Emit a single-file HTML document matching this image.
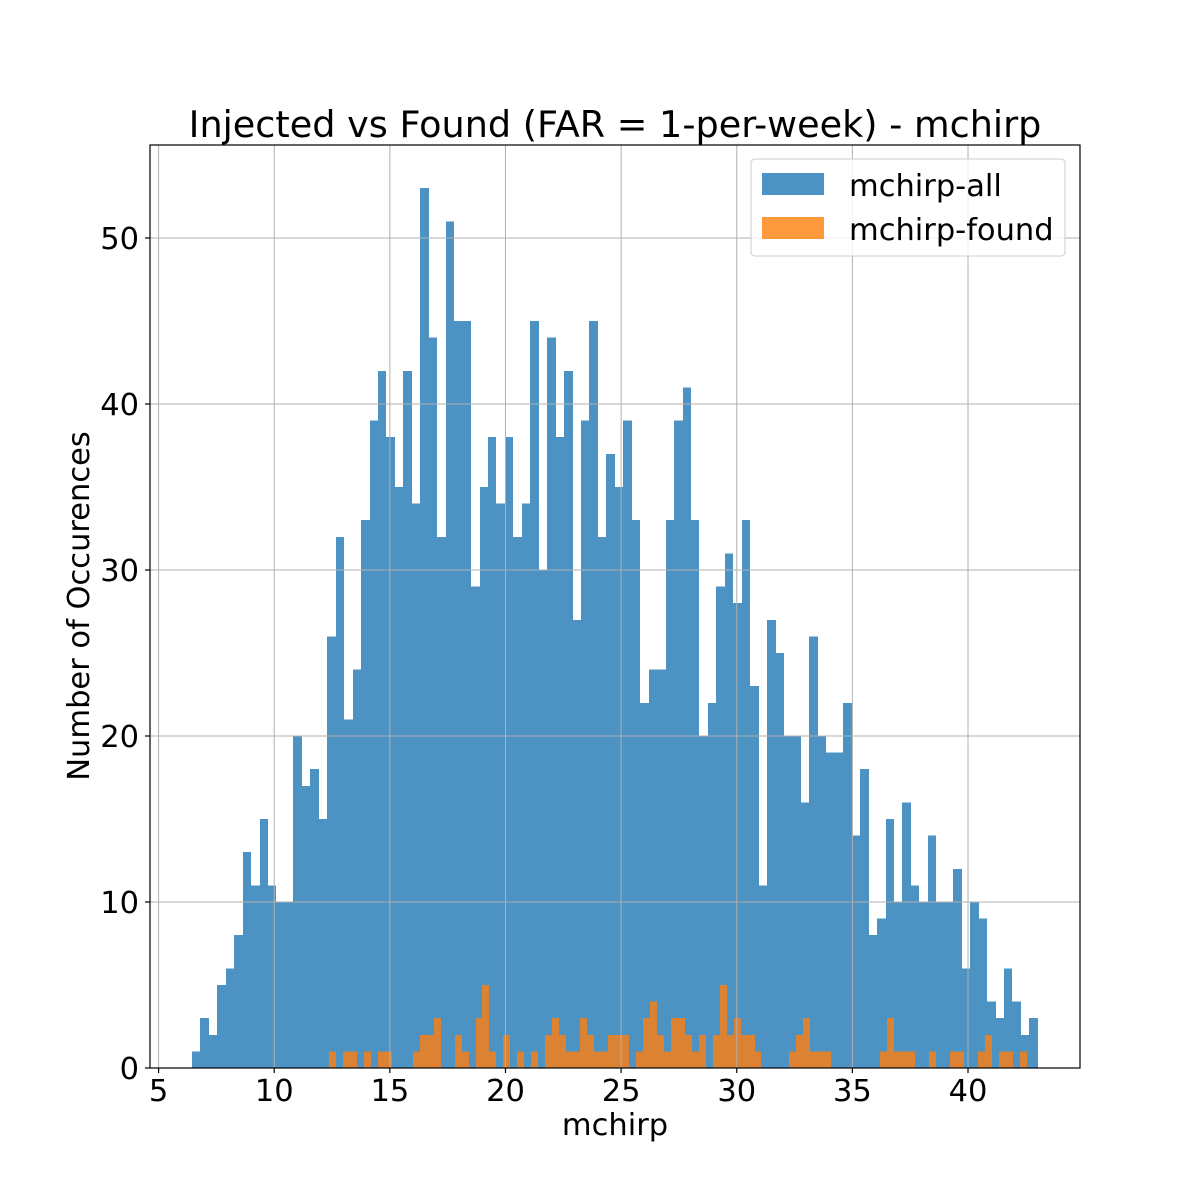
<!DOCTYPE html>
<html><head><meta charset="utf-8"><style>
body{margin:0;background:#fff}
svg{display:block;font-family:"DejaVu Sans","Liberation Sans",sans-serif}
</style></head><body>
<svg id="chart" width="1200" height="1200" viewBox="0 0 1200 1200" xmlns="http://www.w3.org/2000/svg">
<rect width="1200" height="1200" fill="#fff"/>
<text x="615" y="137" font-size="36.6" text-anchor="middle">Injected vs Found (FAR = 1-per-week) - mchirp</text>
<g id="bars-all" shape-rendering="crispEdges"></g>
<g id="bars-found" shape-rendering="crispEdges"></g>
<g id="grid"></g>
<rect x="150" y="145" width="930" height="923" fill="none" stroke="#000" stroke-width="1.2"/>
<g id="xticks"></g>
<g id="yticks"></g>
<text x="615" y="1135" font-size="30.5" text-anchor="middle">mchirp</text>
<text x="0" y="0" font-size="30.5" text-anchor="middle" transform="translate(89,606) rotate(-90)">Number of Occurences</text>
<g>
<rect x="751" y="159" width="314" height="97" rx="4" fill="#fff" fill-opacity="0.8" stroke="#ccc"/>
<rect x="762" y="173" width="62" height="22" fill="#1f77b4" fill-opacity="0.8"/>
<text x="849" y="196" font-size="30.5">mchirp-all</text>
<rect x="762" y="217" width="62" height="22" fill="#ff7f0e" fill-opacity="0.8"/>
<text x="849" y="240" font-size="30.5">mchirp-found</text>
</g>
</svg>
<script>
const allCounts = [1,3,2,5,6,8,13,11,15,11,10,10,20,17,18,15,26,32,21,24,33,39,42,38,35,42,34,53,44,32,51,45,
45,29,35,38,34,38,32,34,45,30,44,38,42,27,39,45,32,37,35,39,33,22,24,24,33,39,41,33,20,22,29,31,28,33,23,
11,27,25,20,20,16,26,20,19,19,22,14,18,8,9,15,10,16,11,10,14,10,10,12,6,10,9,4,3,6,4,2,3];
const allRange = [6.44, 43.02];
const foundCounts = [1,0,1,1,0,1,0,1,1,0,0,0,1,2,2,3,0,0,2,1,0,3,5,1,
0,2,0,1,0,1,0,2,3,2,1,1,3,2,1,1,2,2,2,0,1,3,4,2,1,3,
3,2,1,2,0,2,5,2,3,2,2,1,0,0,0,0,1,2,3,1,1,1,0,
0,0,0,0,0,0,
1,3,1,1,1,0,0,1,0,0,1,1,0,0,1,2,0,1,1,0,1];
const foundRange = [12.37, 42.53];
const xTicks = [5,10,15,20,25,30,35,40];
const yTicks = [0,10,20,30,40,50];

const NS = "http://www.w3.org/2000/svg";
const X = v => 158.6 + (v - 5) * 23.126;
const Y = v => 1068 - v * 16.6;
function mk(tag, attrs, parent){
  const e = document.createElementNS(NS, tag);
  for (const k in attrs) e.setAttribute(k, attrs[k]);
  parent.appendChild(e); return e;
}
function drawHist(counts, range, color, gid, name){
  const g = document.getElementById(gid);
  const w = (range[1] - range[0]) / counts.length;
  counts.forEach((c, i) => {
    if (c <= 0) return;
    const x0 = Math.round(X(range[0] + i * w)), x1 = Math.round(X(range[0] + (i + 1) * w));
    const r = mk('rect', {x:x0, y:Y(c), width:x1 - x0, height:Y(0) - Y(c), fill:color, 'fill-opacity':0.8}, g);
    
    
  });
}
drawHist(allCounts, allRange, '#1f77b4', 'bars-all', 'bar-all');
drawHist(foundCounts, foundRange, '#ff7f0e', 'bars-found', 'bar-found');
const grid = document.getElementById('grid');
const xt = document.getElementById('xticks');
const yt = document.getElementById('yticks');
xTicks.forEach(t => {
  const gl = mk('line', {x1:X(t), x2:X(t), y1:145, y2:1068, stroke:'#b0b0b0', 'stroke-width':1}, grid);
  
  
  mk('line', {x1:X(t), x2:X(t), y1:1068, y2:1073, stroke:'#000', 'stroke-width':1.2}, xt);
  const tx = mk('text', {x:X(t), y:1101, 'font-size':30.5, 'text-anchor':'middle'}, xt);
  tx.textContent = t;
  
  
});
yTicks.forEach(t => {
  const gl = mk('line', {x1:150, x2:1080, y1:Y(t), y2:Y(t), stroke:'#b0b0b0', 'stroke-width':1}, grid);
  
  
  mk('line', {x1:145, x2:150, y1:Y(t), y2:Y(t), stroke:'#000', 'stroke-width':1.2}, yt);
  const tx = mk('text', {x:139, y:Y(t) + 11, 'font-size':30.5, 'text-anchor':'end'}, yt);
  tx.textContent = t;
  
  
});
</script>
</body></html>
